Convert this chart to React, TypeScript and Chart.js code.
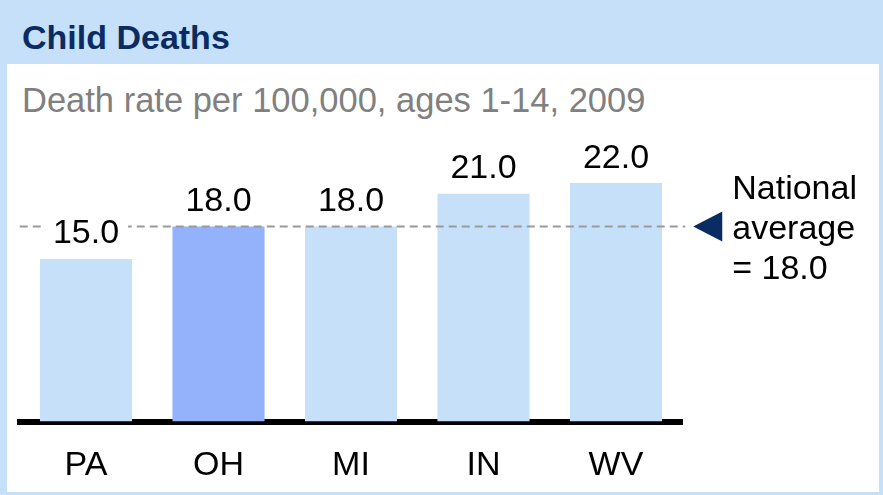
import React, { useEffect, useRef } from "react";
import { Chart, registerables } from "chart.js";

Chart.register(...registerables);

// ---- data ----
const categories = ["PA", "OH", "MI", "IN", "WV"];
const deathRates = [15.0, 18.0, 18.0, 21.0, 22.0];
const highlightedCategory = "OH";
const nationalAverage = 18.0;
const titleText = "Child Deaths";
const subtitleText = "Death rate per 100,000, ages 1-14, 2009";
const averageLabelLines = ["National", "average", "= 18.0"];
const yMin = 0;
const yMax = 25;

// ---- styles ----
const FONT = "'Liberation Sans', Arial, Helvetica, sans-serif";
const LIGHT_BLUE = "#c6e0fa";
const HIGHLIGHT_BLUE = "#94b2fc";
const NAVY = "#0b2c62";
const GREY_TEXT = "#808080";
const TEXT_SIZE = 34;

const overlayPlugin = {
  id: "overlay",
  afterDatasetsDraw(chart: any) {
    const { ctx, chartArea, scales } = chart;
    const y = scales.y;
    const avgY = y.getPixelForValue(nationalAverage);

    ctx.save();
    // dashed national average line
    ctx.strokeStyle = "#9a9a9a";
    ctx.lineWidth = 2;
    ctx.setLineDash([8, 5]);
    ctx.beginPath();
    ctx.moveTo(chartArea.left, avgY);
    ctx.lineTo(chartArea.right + 3, avgY);
    ctx.stroke();
    ctx.setLineDash([]);

    // triangle marker
    const tipX = chartArea.right + 11;
    ctx.fillStyle = NAVY;
    ctx.beginPath();
    ctx.moveTo(tipX, avgY);
    ctx.lineTo(tipX + 29, avgY - 15);
    ctx.lineTo(tipX + 29, avgY + 15);
    ctx.closePath();
    ctx.fill();

    // average text
    ctx.font = `${TEXT_SIZE}px ${FONT}`;
    ctx.fillStyle = "#000";
    ctx.textAlign = "left";
    ctx.textBaseline = "alphabetic";
    averageLabelLines.forEach((line, i) => {
      ctx.fillText(line, tipX + 39, avgY + 12.6 + (i - 1) * 40);
    });

    // value labels with white background
    const meta = chart.getDatasetMeta(0);
    ctx.font = `${TEXT_SIZE}px ${FONT}`;
    ctx.textAlign = "center";
    meta.data.forEach((bar: any, i: number) => {
      const label = deathRates[i].toFixed(1);
      const w = ctx.measureText(label).width;
      const baseY = bar.y - 15.5;
      ctx.fillStyle = "#ffffff";
      ctx.fillRect(bar.x - w / 2 - 9, baseY - 29, w + 18, 37);
      ctx.fillStyle = "#000";
      ctx.fillText(label, bar.x, baseY);
    });
    ctx.restore();
  },
};

function ChartCanvas() {
  const ref = useRef<HTMLCanvasElement | null>(null);
  useEffect(() => {
    if (!ref.current) return;
    const chart = new Chart(ref.current, {
      type: "bar",
      data: {
        labels: categories,
        datasets: [
          {
            data: deathRates,
            backgroundColor: categories.map((c) =>
              c === highlightedCategory ? HIGHLIGHT_BLUE : LIGHT_BLUE
            ),
            borderWidth: 0,
            barPercentage: 0.695,
            categoryPercentage: 1.0,
          },
        ],
      },
      options: {
        responsive: false,
        animation: false,
        events: [],
        layout: { padding: { left: 19.75, right: 200.75, top: 150.5, bottom: 0 } },
        plugins: {
          legend: { display: false },
          tooltip: { enabled: false },
          title: { display: false },
        },
        scales: {
          x: {
            z: 1,
            grid: { display: false, drawTicks: false },
            border: { display: true, color: "#000", width: 6 },
            ticks: {
              color: "#000",
              font: { family: FONT, size: TEXT_SIZE },
              padding: 24,
            },
            afterFit: (scale: any) => {
              scale.height = 73.5;
            },
          },
          y: {
            display: false,
            min: yMin,
            max: yMax,
          },
        },
      },
      plugins: [overlayPlugin],
    });
    return () => chart.destroy();
  }, []);
  return (
    <canvas
      ref={ref}
      width={883}
      height={495}
      style={{ position: "absolute", left: 0, top: 0, width: 883, height: 495 }}
    />
  );
}

export default function App() {
  useEffect(() => {
    document.body.style.margin = "0";
  }, []);
  return (
    <div
      style={{
        position: "fixed",
        left: 0,
        top: 0,
        width: 883,
        height: 495,
        overflow: "hidden",
        background: LIGHT_BLUE,
        fontFamily: FONT,
      }}
    >
      <div
        style={{
          position: "absolute",
          left: 7,
          top: 64,
          width: 872,
          height: 428,
          background: "#ffffff",
        }}
      />
      <div
        style={{
          position: "absolute",
          left: 22,
          top: 20,
          fontSize: 34,
          lineHeight: "34px",
          fontWeight: "bold",
          color: NAVY,
          whiteSpace: "nowrap",
        }}
      >
        {titleText}
      </div>
      <div
        style={{
          position: "absolute",
          left: 22,
          top: 83,
          fontSize: 34.5,
          lineHeight: "34.5px",
          color: GREY_TEXT,
          whiteSpace: "nowrap",
        }}
      >
        {subtitleText}
      </div>
      <ChartCanvas />
    </div>
  );
}
